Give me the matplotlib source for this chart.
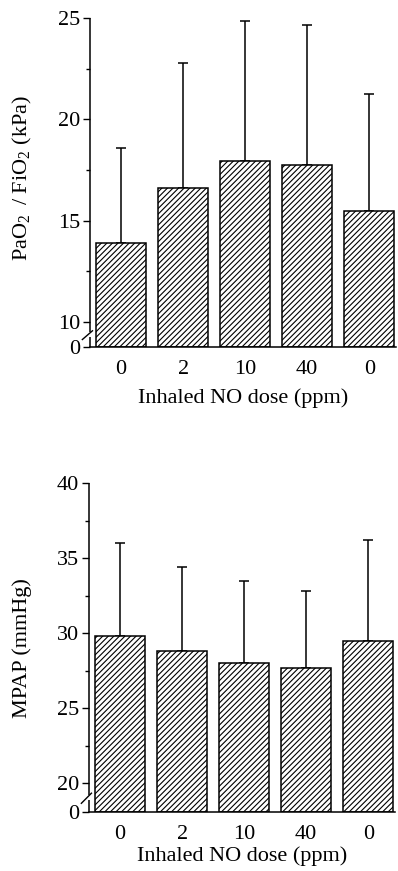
import numpy as np
import matplotlib
matplotlib.use("Agg")
import matplotlib.pyplot as plt

plt.rcParams['font.family'] = ['Liberation Serif', 'DejaVu Serif']
plt.rcParams['mathtext.fontset'] = 'custom'
plt.rcParams['mathtext.rm'] = 'Liberation Serif'
plt.rcParams['hatch.linewidth'] = 0.8

# Data
doses = ['0', '2', '10', '40', '0']
pao2_mean = [13.9, 16.6, 17.95, 17.75, 15.5]
pao2_sd = [4.7, 6.2, 6.9, 6.9, 5.75]
mpap_mean = [29.8, 28.8, 28.0, 27.7, 29.5]
mpap_sd = [6.2, 5.6, 5.5, 5.1, 6.7]


def broken_scale(cut, gap):
    # squeeze 0..cut into a short stretch of height "gap"
    def fwd(y):
        y = np.asarray(y, dtype=float)
        return np.where(y < cut, y * gap / cut, y - cut + gap)

    def inv(y):
        y = np.asarray(y, dtype=float)
        return np.where(y < gap, y * cut / gap, y + cut - gap)
    return fwd, inv


def panel(ax, means, sds, cut, gap, ytop, majors, minors, ylabel, ylab_y,
          xpad):
    x = np.arange(len(means))
    ax.set_yscale('function', functions=broken_scale(cut, gap))
    ax.bar(x, means, width=0.8, color='white', edgecolor='black',
           linewidth=1.1, hatch='//////', zorder=2)
    ax.errorbar(x, means, yerr=[np.zeros(len(sds)), sds], fmt='none',
                ecolor='black', elinewidth=1.1, capsize=3.3, capthick=1.1,
                zorder=1, clip_on=False)
    ax.set_xlim(-0.5, 4.43)
    ax.set_ylim(0, ytop)
    ax.set_yticks(majors)
    ax.set_yticklabels([str(v) for v in majors])
    ax.set_yticks(minors, minor=True)
    ax.set_xticks(x)
    ax.set_xticklabels(doses)
    ax.tick_params(axis='x', length=0, pad=9, labelsize=16)
    ax.tick_params(axis='y', which='major', direction='out', length=5,
                   width=1.0, pad=2, labelsize=16)
    ax.tick_params(axis='y', which='minor', direction='out', length=3,
                   width=1.0)
    for s in ['top', 'right', 'left']:
        ax.spines[s].set_visible(False)
    ax.spines['bottom'].set_linewidth(1.1)

    # broken left axis
    tr = ax.get_yaxis_transform()
    lo, hi = cut * 0.4, cut * 0.6
    ax.plot([0, 0], [0, lo], color='black', lw=1.1, transform=tr,
            clip_on=False, solid_capstyle='butt')
    ax.plot([0, 0], [hi, ytop], color='black', lw=1.1, transform=tr,
            clip_on=False, solid_capstyle='butt')
    ax.plot([-0.025, 0.008], [cut * 0.3, cut * 0.65], color='black', lw=1.0,
            transform=tr, clip_on=False)

    ax.set_xlabel('Inhaled NO dose (ppm)', fontsize=16, labelpad=xpad)
    ax.figure.text(22 / 398, ylab_y, ylabel, rotation=90, ha='center',
                   va='center', fontsize=16)


fig = plt.figure(figsize=(3.98, 8.71), dpi=100)
ax1 = fig.add_axes([90 / 398, 1 - 347 / 871, 306 / 398, 329 / 871])
ax2 = fig.add_axes([89 / 398, 1 - 812 / 871, 306 / 398, 329 / 871])

panel(ax1, pao2_mean, pao2_sd, 10, 1.23, 25,
      [0, 10, 15, 20, 25], [12.5, 17.5, 22.5],
      r'PaO$_\mathrm{2}$ $\,$/ FiO$_\mathrm{2}$ (kPa)', 1 - 178 / 871, 7)
panel(ax2, mpap_mean, mpap_sd, 20, 1.93, 40,
      [0, 20, 25, 30, 35, 40], [22.5, 27.5, 32.5, 37.5],
      'MPAP (mmHg)', 1 - 648 / 871, 2)

fig.savefig('out.png', dpi=100)
